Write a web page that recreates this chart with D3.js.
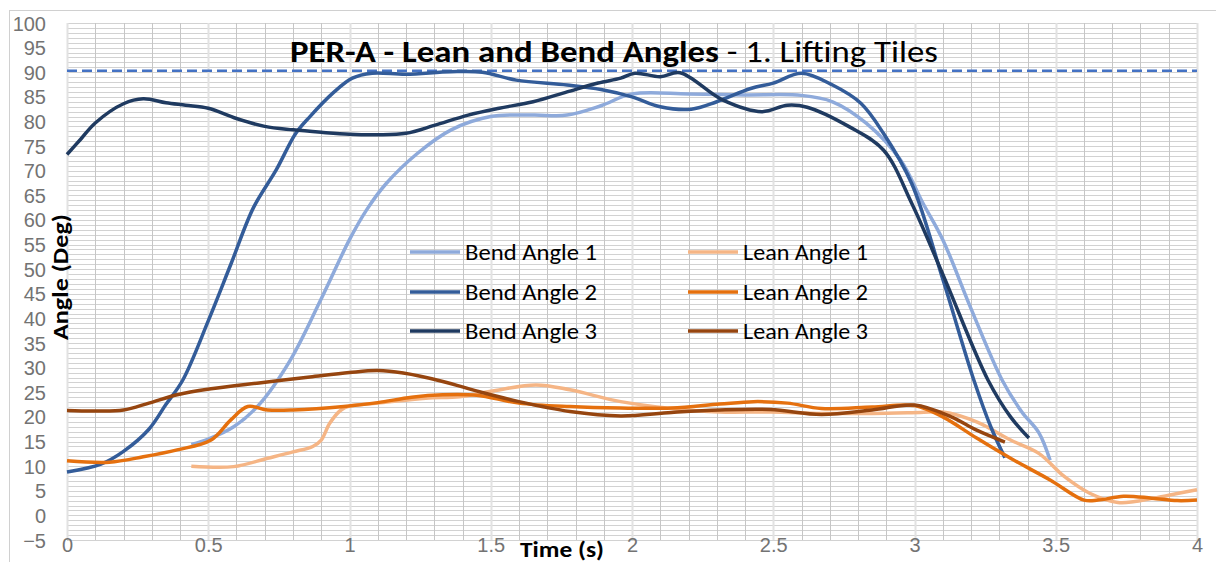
<!DOCTYPE html>
<html>
<head>
<meta charset="utf-8">
<script src="https://cdn.jsdelivr.net/npm/d3@7"></script>
<style>
  body { margin: 0; background: #fff; }
  svg { display: block; font-family: Carlito, Lato, "Open Sans", sans-serif; }
</style>
</head>
<body>
<svg id="chart"></svg>
<script>
// tick labels
let xTicks = [0, 0.5, 1, 1.5, 2, 2.5, 3, 3.5, 4];
let yTicks = [-5, 0, 5, 10, 15, 20, 25, 30, 35, 40, 45, 50, 55, 60, 65, 70, 75, 80, 85, 90, 95, 100];
let limitValue = 90.3;

// series, [time (s), angle (deg)]
let bend1 = [[0.44,14.4],[0.5,15.5],[0.59,18],[0.68,22.5],[0.79,31.5],[0.9,44],[1.0,56],[1.06,62],[1.13,67.4],[1.24,73.5],[1.36,78.3],[1.5,81],[1.65,81.3],[1.77,81.3],[1.89,83.2],[2.0,85.6],[2.2,85.6],[2.4,85.4],[2.6,85.3],[2.71,84],[2.83,79.6],[2.95,72.2],[3.03,63.4],[3.1,56],[3.2,42],[3.31,27.5],[3.38,21],[3.44,16.8],[3.48,11.2]];
let bend2 = [[0,8.8],[0.12,10.4],[0.2,13],[0.29,17.5],[0.35,22.5],[0.41,27.5],[0.5,39.5],[0.58,51],[0.66,62.5],[0.74,70.1],[0.81,77.6],[0.86,81],[0.94,85.7],[1.01,88.8],[1.08,89.8],[1.2,89.6],[1.36,90.1],[1.47,90],[1.59,88.4],[1.77,87.4],[1.89,86.5],[2.0,85],[2.1,83],[2.21,82.5],[2.3,84],[2.42,86.7],[2.5,87.8],[2.6,89.8],[2.71,87.4],[2.81,83.7],[2.89,77.6],[2.99,67.4],[3.1,48],[3.21,27.5],[3.27,18],[3.32,11.7]];
let bend3 = [[0,73.3],[0.05,76.5],[0.1,79.7],[0.2,83.6],[0.27,84.6],[0.35,83.8],[0.42,83.3],[0.5,82.7],[0.6,80.6],[0.7,79],[0.8,78.3],[0.9,77.8],[1.0,77.4],[1.1,77.3],[1.2,77.6],[1.3,79.2],[1.42,81.3],[1.53,82.7],[1.65,84],[1.77,86],[1.88,87.8],[1.96,88.8],[2.01,89.8],[2.1,89.1],[2.17,89.9],[2.32,84.4],[2.46,82],[2.55,83.3],[2.62,82.9],[2.77,78.9],[2.89,74.2],[2.99,63.4],[3.1,49],[3.26,27.5],[3.34,20],[3.405,15.7]];
let lean1 = [[0.44,10],[0.59,9.9],[0.71,11.6],[0.8,12.9],[0.87,14],[0.9,15.3],[0.93,18.7],[0.97,21.4],[1.0,22.2],[1.1,22.8],[1.27,23.8],[1.39,24.1],[1.5,25.2],[1.66,26.5],[1.78,25.5],[1.96,23.1],[2.14,21.7],[2.31,21],[2.49,21],[2.67,20.7],[2.85,20.7],[3.02,20.9],[3.1,21],[3.22,19],[3.34,15.3],[3.44,12.6],[3.53,7.9],[3.62,4.5],[3.72,2.6],[3.78,2.8],[3.9,4.1],[4.0,5.2]];
let lean2 = [[0,11.1],[0.15,10.8],[0.27,11.9],[0.39,13.3],[0.51,15.3],[0.58,19.4],[0.64,22.1],[0.71,21.4],[0.8,21.4],[0.98,22.1],[1.1,22.9],[1.22,24],[1.33,24.5],[1.45,24.4],[1.6,22.8],[1.78,22.1],[1.96,21.8],[2.14,21.8],[2.31,22.6],[2.43,23.1],[2.55,22.8],[2.67,21.7],[2.85,22],[3.0,22.3],[3.1,20],[3.22,15.7],[3.34,11.6],[3.48,7.2],[3.6,3.1],[3.65,3.1],[3.74,3.9],[3.84,3.5],[3.93,3],[4.0,3.1]];
let lean3 = [[0,21.3],[0.1,21.2],[0.2,21.4],[0.29,22.8],[0.39,24.5],[0.51,25.7],[0.68,26.9],[0.86,28.1],[1.0,29],[1.1,29.4],[1.19,28.9],[1.33,27.2],[1.46,25.1],[1.6,23.1],[1.78,21.1],[1.96,20.2],[2.14,20.9],[2.31,21.4],[2.49,21.5],[2.67,20.5],[2.85,21.4],[3.0,22.4],[3.13,20],[3.22,17.3],[3.32,14.9]];

let seriesNames = ['Bend Angle 1', 'Lean Angle 1', 'Bend Angle 2', 'Lean Angle 2', 'Bend Angle 3', 'Lean Angle 3'];
let seriesData = [bend1, lean1, bend2, lean2, bend3, lean3];
let seriesColors = ['#8eaadb', '#f5b585', '#335c99', '#e5700e', '#1f3a60', '#96450f'];

let svgWidth = 1216;
let svgHeight = 562;

let svg = d3.select('#chart')
  .attr('width', svgWidth)
  .attr('height', svgHeight);

// outer chart frame
svg.append('rect')
  .attr('x', 9.5).attr('y', 10.5)
  .attr('width', 1230).attr('height', 600)
  .attr('fill', 'none')
  .attr('stroke', '#d0d0d0');

let x = d3.scaleLinear().domain([0, 4]).range([67, 1197]);
let y = d3.scaleLinear().domain([-5, 100]).range([540, 23]);

// gridlines
let grid = svg.append('g');
grid.selectAll('.hgrid')
  .data(d3.range(-5, 100.5, 1))
  .enter()
  .append('line')
  .attr('x1', x(0)).attr('x2', x(4))
  .attr('y1', d => Math.round(y(d)) + 0.5)
  .attr('y2', d => Math.round(y(d)) + 0.5)
  .attr('stroke', '#d2d2d2')
  .attr('stroke-width', 1);

grid.selectAll('.vgrid')
  .data(d3.range(0, 40.5, 1))
  .enter()
  .append('line')
  .attr('x1', d => Math.round(x(d / 10)) + 0.5)
  .attr('x2', d => Math.round(x(d / 10)) + 0.5)
  .attr('y1', y(100)).attr('y2', y(-5))
  .attr('stroke', d => d % 5 == 0 ? '#e2e2e2' : '#c6c6c6')
  .attr('stroke-width', d => d % 5 == 0 ? 2 : 1);

// axes (labels only)
let yAxis = svg.append('g')
  .attr('transform', 'translate(46,0)')
  .call(d3.axisLeft(y).tickValues(yTicks).tickSize(0).tickPadding(0));
yAxis.select('.domain').remove();
yAxis.selectAll('text')
  .attr('fill', '#737373')
  .style('font-size', '20px')
  .attr('dy', '0.35em');

let xAxis = svg.append('g')
  .attr('transform', 'translate(0,534)')
  .call(d3.axisBottom(x).tickValues(xTicks).tickSize(0).tickPadding(0).tickFormat(d3.format('')));
xAxis.select('.domain').remove();
xAxis.selectAll('text')
  .attr('fill', '#737373')
  .style('font-size', '20px')
  .attr('dy', '0.9em');

// dashed 90 deg reference
svg.append('line')
  .attr('x1', x(0)).attr('x2', x(4))
  .attr('y1', y(limitValue)).attr('y2', y(limitValue))
  .attr('stroke', '#4472c4')
  .attr('stroke-width', 2.5)
  .attr('stroke-dasharray', '10,5');

// series lines
let line = d3.line()
  .x(d => x(d[0]))
  .y(d => y(d[1]))
  .curve(d3.curveCatmullRom.alpha(0.5));

svg.selectAll('.series')
  .data(seriesData)
  .enter()
  .append('path')
  .attr('class', 'series')
  .attr('d', d => line(d))
  .attr('fill', 'none')
  .attr('stroke', (d, i) => seriesColors[i])
  .attr('stroke-width', 3.5)
  .attr('stroke-linejoin', 'round');

// title
let title = svg.append('text')
  .attr('x', 290).attr('y', 62)
  .attr('textLength', 648)
  .attr('lengthAdjust', 'spacingAndGlyphs')
  .style('font-size', '31px')
  .attr('fill', '#000');
title.append('tspan').attr('font-weight', 'bold').text('PER-A - Lean and Bend Angles');
title.append('tspan').text(' - 1. Lifting Tiles');

// legend
let legendPos = [[410, 252], [688, 252], [410, 292], [688, 292], [410, 331], [688, 331]];
let legend = svg.selectAll('.legend')
  .data(seriesNames)
  .enter()
  .append('g')
  .attr('transform', (d, i) => `translate(${legendPos[i]})`);

legend.append('line')
  .attr('x1', 0).attr('x2', 50)
  .attr('stroke', (d, i) => seriesColors[i])
  .attr('stroke-width', 3.5);

legend.append('text')
  .attr('x', 55)
  .attr('dy', '0.35em')
  .attr('textLength', (d, i) => i % 2 == 0 ? 132 : 125)
  .attr('lengthAdjust', 'spacingAndGlyphs')
  .style('font-size', '23px')
  .attr('fill', '#000')
  .text(d => d);

// axis titles
svg.append('text')
  .attr('transform', 'translate(68,277) rotate(-90)')
  .attr('text-anchor', 'middle')
  .attr('font-weight', 'bold')
  .attr('textLength', 126)
  .attr('lengthAdjust', 'spacingAndGlyphs')
  .style('font-size', '23px')
  .text('Angle (Deg)');

svg.append('text')
  .attr('x', 562).attr('y', 557)
  .attr('text-anchor', 'middle')
  .attr('font-weight', 'bold')
  .attr('textLength', 84)
  .attr('lengthAdjust', 'spacingAndGlyphs')
  .style('font-size', '22px')
  .text('Time (s)');
</script>
</body>
</html>
